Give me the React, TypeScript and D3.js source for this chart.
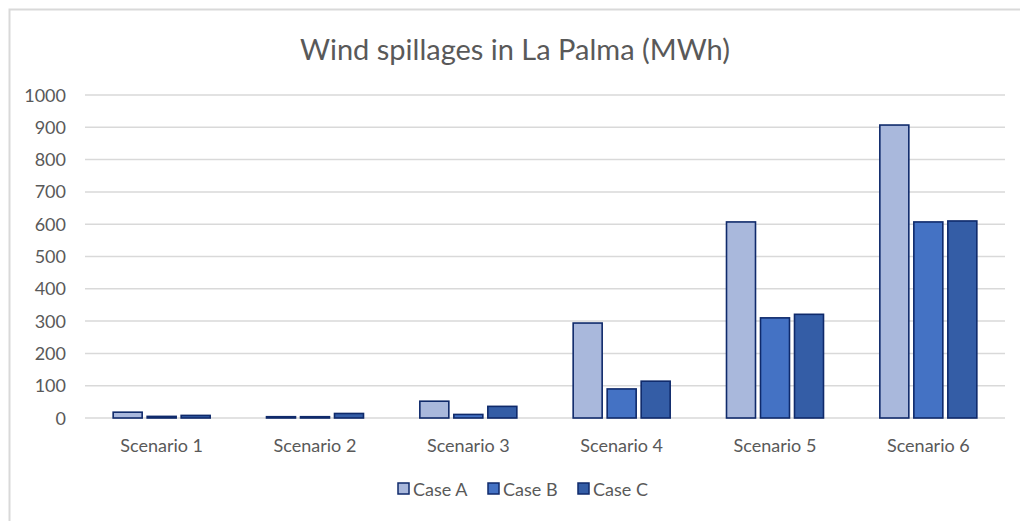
import React from "react";
import * as d3 from "d3";

const categories = ["Scenario 1", "Scenario 2", "Scenario 3", "Scenario 4", "Scenario 5", "Scenario 6"];
const seriesNames = ["Case A", "Case B", "Case C"];
const caseA = [18, 4, 52, 294, 607, 907];
const caseB = [5, 4, 11, 90, 310, 607];
const caseC = [8, 14, 36, 114, 321, 610];
const yTicks = [0, 100, 200, 300, 400, 500, 600, 700, 800, 900, 1000];
const colors = ["#A9B8DC", "#4472C4", "#345DA6"];

export default function App() {
  const W = 1020, H = 521;
  const left = 85, right = 1005, top = 95, bottom = 418;
  const x = d3.scaleBand<string>().domain(categories).range([left, right]);
  const y = d3.scaleLinear().domain([0, 1000]).range([bottom, top]);
  const series = [caseA, caseB, caseC];
  const barW = 29, gap = 5;
  const groupW = 3 * barW + 2 * gap;
  const font = "Lato, 'Open Sans', sans-serif";
  const legendX = [398, 488, 578];
  return (
    <svg width={W} height={H} style={{ position: "absolute", left: 0, top: 0, background: "#fff" }} fontFamily={font}>
      <rect x={9.5} y={9.5} width={W + 10} height={H + 10} fill="#fff" stroke="#D9D9D9" strokeWidth={2} />
      <text x={515} y={60} textAnchor="middle" fontSize={29} fill="#595959">Wind spillages in La Palma (MWh)</text>
      {yTicks.map(t => (
        <g key={t}>
          <line x1={left} x2={right} y1={y(t)} y2={y(t)} stroke="#D9D9D9" strokeWidth={1.5} />
          <text x={66} y={y(t) + 6.5} textAnchor="end" fontSize={18} fill="#595959">{t}</text>
        </g>
      ))}
      {categories.map((c, i) => {
        const cx = (x(c) as number) + x.bandwidth() / 2;
        return (
          <g key={c}>
            {series.map((s, j) => {
              const bx = cx - groupW / 2 + j * (barW + gap);
              return (
                <rect key={j} x={bx} y={y(s[i])} width={barW} height={bottom - y(s[i])}
                  fill={colors[j]} stroke="#0F2A6B" strokeWidth={1.6} />
              );
            })}
            <text x={cx} y={452} textAnchor="middle" fontSize={18} fill="#595959">{c}</text>
          </g>
        );
      })}
      {seriesNames.map((n, j) => (
        <g key={n}>
          <rect x={legendX[j]} y={483} width={11} height={11} fill={colors[j]} stroke="#0F2A6B" strokeWidth={1.5} />
          <text x={legendX[j] + 15} y={496} fontSize={18} fill="#595959">{n}</text>
        </g>
      ))}
    </svg>
  );
}
